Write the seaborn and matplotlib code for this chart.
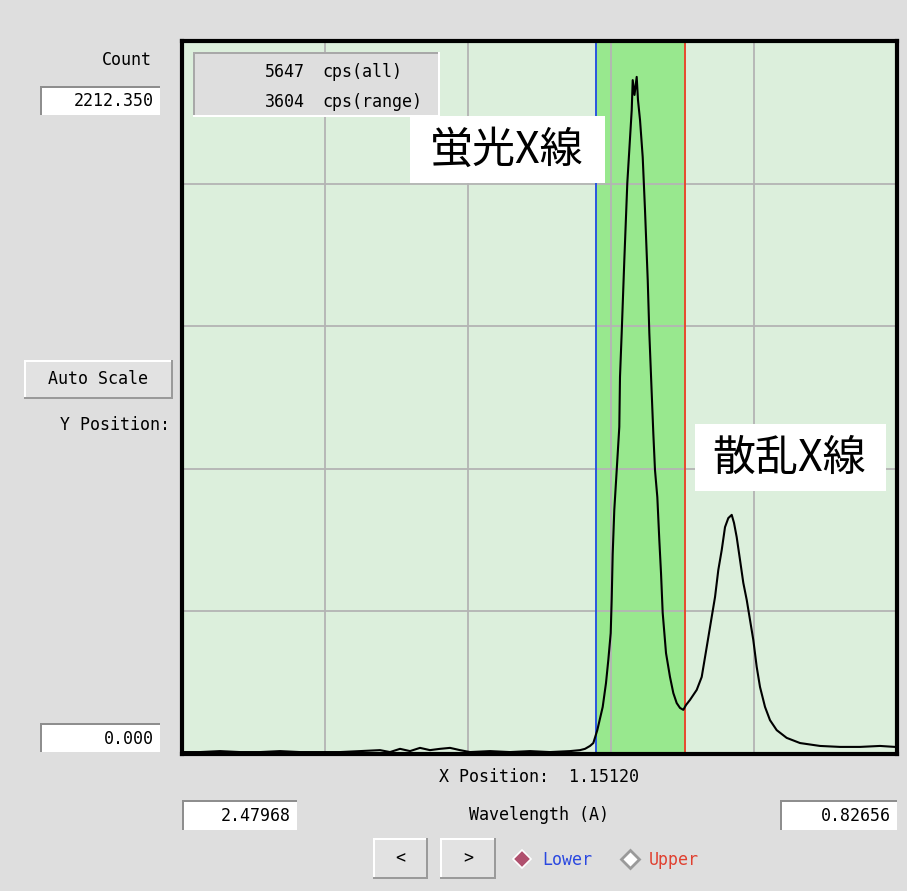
import matplotlib
matplotlib.use("Agg")
import numpy as np
import pandas as pd
import matplotlib.pyplot as plt
import seaborn as sns
from matplotlib.patches import Rectangle
from matplotlib.lines import Line2D

# ---------------- data ----------------
wavelength = [2.4774, 2.4381, 2.3918, 2.3456, 2.2993, 2.2531, 2.2069, 2.1606,
              2.1144, 2.0681, 2.0219, 1.9988, 1.9756, 1.9525, 1.9294, 1.9063,
              1.8832, 1.8600, 1.8369, 1.8138, 1.7676, 1.7213, 1.6751, 1.6288,
              1.5826, 1.5595, 1.5479, 1.5363, 1.5287, 1.5195, 1.5070, 1.4994,
              1.4940, 1.4885, 1.4862, 1.4839, 1.4802, 1.4746, 1.4686, 1.4670,
              1.4631, 1.4570, 1.4501, 1.4455, 1.4399, 1.4376, 1.4335, 1.4284,
              1.4254, 1.4207, 1.4145, 1.4092, 1.4029, 1.3992, 1.3937, 1.3900,
              1.3861, 1.3807, 1.3761, 1.3722, 1.3683, 1.3606, 1.3514, 1.3437,
              1.3359, 1.3283, 1.3206, 1.3144, 1.3051, 1.2896, 1.2781, 1.2665,
              1.2550, 1.2473, 1.2397, 1.2318, 1.2242, 1.2166, 1.2087, 1.2034,
              1.1972, 1.1895, 1.1819, 1.1740, 1.1664, 1.1588, 1.1509, 1.1433,
              1.1317, 1.1202, 1.1047, 1.0816, 1.0508, 1.0046, 0.9583, 0.9121,
              0.8658, 0.8312]
counts = [6, 6, 9, 6, 6, 9, 6, 6,
          6, 9, 12, 6, 16, 9, 19, 12,
          16, 19, 12, 6, 9, 6, 9, 6,
          9, 12, 16, 25, 34, 74, 146, 220,
          292, 375, 480, 620, 757, 881, 1015, 1170,
          1306, 1533, 1772, 1874, 1998, 2091, 2045, 2101,
          2029, 1967, 1852, 1688, 1471, 1306, 1120, 996,
          881, 797, 664, 562, 438, 313, 239, 189,
          158, 143, 137, 152, 168, 199, 239, 332,
          425, 487, 571, 633, 704, 732, 742, 717,
          673, 602, 531, 478, 416, 354, 270, 208,
          146, 105, 74, 50, 34, 25, 22, 22,
          25, 22]

x_left, x_right = 2.47968, 0.82656
y_top = 2212.350
lower_marker, upper_marker = 1.5225, 1.3178
x_position = "1.15120"
cps_all, cps_range = "5647", "3604"
peak_labels = ["蛍光X線", "散乱X線"]

df = pd.DataFrame({"wavelength": wavelength, "count": counts})

# ---------------- figure ----------------
W, H = 907, 891
GUI_BG = "#dedede"
fig = plt.figure(figsize=(W / 100, H / 100), dpi=100, facecolor=GUI_BG)
ax = fig.add_axes([182 / W, 1 - 754 / H, 715 / W, 713 / H])
ax.set_facecolor("#dcefdc")

ax.axvspan(lower_marker, upper_marker, color="#98e88e", zorder=0.5, lw=0)
sns.lineplot(data=df, x="wavelength", y="count", ax=ax, color="black",
             lw=1.5, sort=False, estimator=None, zorder=3)
ax.axvline(lower_marker, color="#2a55e0", lw=1.4, zorder=2)
ax.axvline(upper_marker, color="#e8482e", lw=1.4, zorder=2)

ax.set_xlim(x_left, x_right)
ax.set_ylim(0, y_top)
ax.set_xticks(np.linspace(x_left, x_right, 6))
ax.set_yticks(np.linspace(0, y_top, 6))
ax.grid(True, color="#b4b4b4", lw=1.3, zorder=1)
ax.set_axisbelow(True)
ax.tick_params(length=0, labelbottom=False, labelleft=False)
ax.set_xlabel("")
ax.set_ylabel("")
for s in ax.spines.values():
    s.set_linewidth(3)
    s.set_color("black")


def fx(x):
    return x / W


def fy(y):
    return 1 - y / H


def prect(x0, y0, x1, y1, z=2, **kw):
    fig.add_artist(Rectangle((fx(x0), fy(y1)), (x1 - x0) / W, (y1 - y0) / H,
                             transform=fig.transFigure, lw=0, zorder=z, **kw))


MONO = "DejaVu Sans Mono"
FS = 12


def ptext(x, y, s, ha="left", color="black", size=FS, family=MONO, z=4):
    fig.text(fx(x), fy(y), s, ha=ha, va="center", color=color, fontsize=size,
             family=family, zorder=z)


def entry(x0, y0, x1, y1, s):
    prect(x0, y0, x1, y1, fc="#8e8e8e")
    prect(x0 + 2, y0 + 2, x1, y1, fc="white")
    ptext(x1 - 6, (y0 + y1) / 2 + 1, s, ha="right")


def button(x0, y0, x1, y1, s):
    prect(x0, y0, x1, y1, fc="#9a9a9a")
    prect(x0, y0, x1 - 2, y1 - 2, fc="white")
    prect(x0 + 2, y0 + 2, x1 - 2, y1 - 2, fc="#e2e2e2")
    ptext((x0 + x1) / 2, (y0 + y1) / 2, s, ha="center")


# left panel
ptext(152, 60, "Count", ha="right")
entry(40, 86, 160, 115, f"{y_top:.3f}")
button(24, 360, 173, 399, "Auto Scale")
ptext(170, 425, "Y Position:", ha="right")
entry(40, 723, 160, 752, "0.000")

# bottom panel
ptext(539, 777, f"X Position:  {x_position}", ha="center")
entry(182, 800, 297, 830, f"{x_left:.5f}")
ptext(539, 815, "Wavelength (A)", ha="center")
entry(780, 800, 897, 830, f"{x_right:.5f}")
button(373, 838, 428, 879, "<")
button(440, 838, 496, 879, ">")
fig.add_artist(Line2D([fx(522)], [fy(859)], marker="D", markersize=9,
                      markerfacecolor="#b0506e", markeredgecolor="white",
                      markeredgewidth=1.2, transform=fig.transFigure, zorder=4))
ptext(542, 860, "Lower", color="#2a48e0")
fig.add_artist(Line2D([fx(630)], [fy(859)], marker="D", markersize=9,
                      markerfacecolor="white", markeredgecolor="#9a9a9a",
                      markeredgewidth=2, transform=fig.transFigure, zorder=4))
ptext(649, 860, "Upper", color="#e04030")

# info box inside plot
prect(193, 52, 440, 117, fc="white")
prect(193, 52, 438, 115, fc="#a8a8a8")
prect(195, 54, 438, 115, fc="#dedede")
ptext(305, 72, cps_all, ha="right")
ptext(322, 72, "cps(all)")
ptext(305, 102, cps_range, ha="right")
ptext(322, 102, "cps(range)")

# peak labels
CJK = ["Noto Sans CJK JP", "DejaVu Sans"]
prect(410, 116, 605, 183, fc="white")
ptext(507, 151, peak_labels[0], ha="center", size=31, family=CJK)
prect(695, 424, 886, 491, fc="white")
ptext(789, 459, peak_labels[1], ha="center", size=31, family=CJK)

fig.savefig("out.png", dpi=100, facecolor=GUI_BG)
